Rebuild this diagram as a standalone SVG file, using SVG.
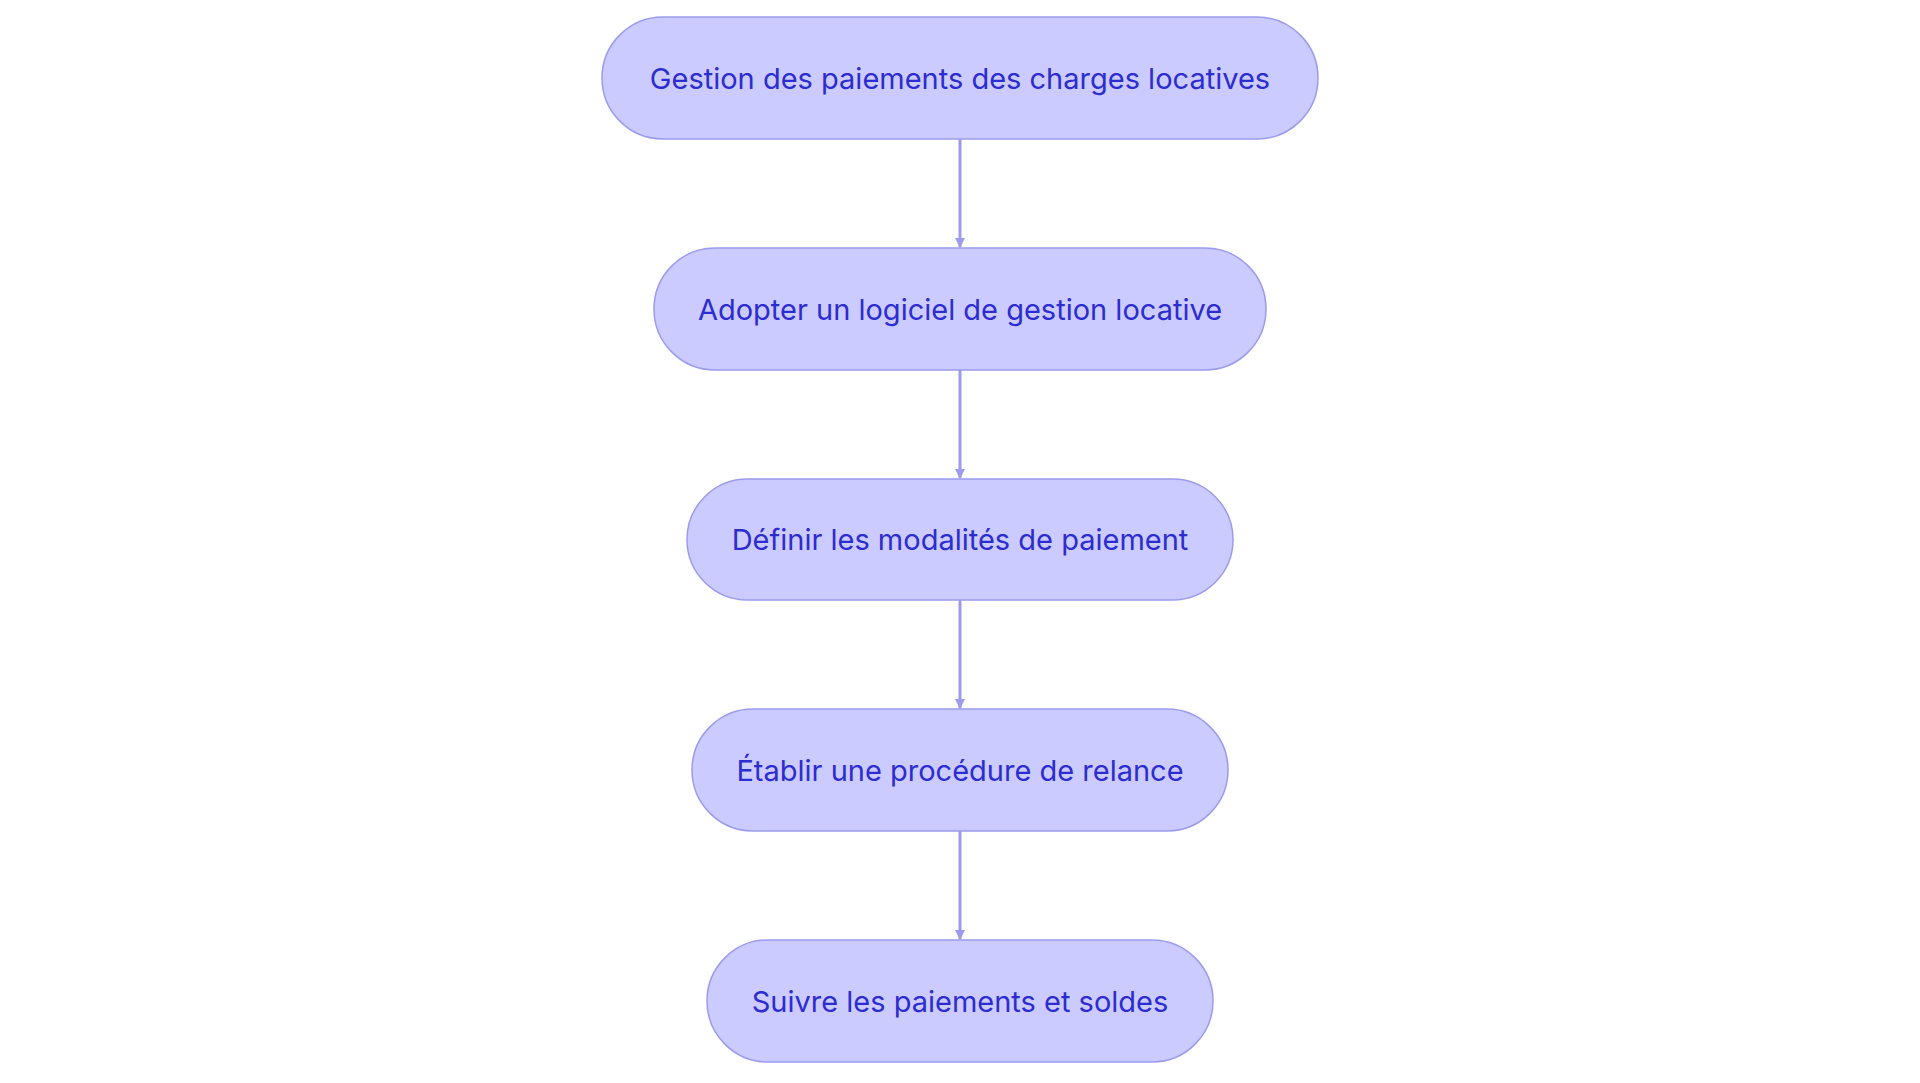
<svg xmlns="http://www.w3.org/2000/svg" width="1920" height="1083" viewBox="0 0 1920 1083">
<style>
.n{fill:#cbcbff;stroke:#9b9bee;stroke-width:1.5}
.t{font-family:Inter,"Noto Sans",sans-serif;font-size:29px;fill:#2c2cd0;text-anchor:middle;dominant-baseline:central}
.c{stroke:#9b9bee;stroke-width:3;fill:none}
</style>
<defs><marker id="a" markerWidth="10" markerHeight="10" refX="9" refY="5" orient="auto" markerUnits="userSpaceOnUse" viewBox="0 0 10 10"><path d="M0,0L10,5L0,10z" fill="#9b9bee"/></marker></defs>
<rect width="1920" height="1083" fill="#fff"/>
<g id="connectors">
<line class="c" x1="960" y1="139" x2="960" y2="247" marker-end="url(#a)" style="--w:0"/>
<line class="c" x1="960" y1="370" x2="960" y2="478" marker-end="url(#a)"/>
<line class="c" x1="960" y1="600" x2="960" y2="708" marker-end="url(#a)"/>
<line class="c" x1="960" y1="831" x2="960" y2="939" marker-end="url(#a)"/>
</g>
<g id="n1"><rect class="n" x="602" y="17" width="716" height="122" rx="61"/><text class="t" x="960" y="78">Gestion des paiements des charges locatives</text></g>
<g id="n2"><rect class="n" x="654" y="248" width="612" height="122" rx="61"/><text class="t" x="960" y="309">Adopter un logiciel de gestion locative</text></g>
<g id="n3"><rect class="n" x="687" y="479" width="546" height="121" rx="60.5"/><text class="t" x="960" y="539">Définir les modalités de paiement</text></g>
<g id="n4"><rect class="n" x="692" y="709" width="536" height="122" rx="61"/><text class="t" x="960" y="770">Établir une procédure de relance</text></g>
<g id="n5"><rect class="n" x="707" y="940" width="506" height="122" rx="61"/><text class="t" x="960" y="1001">Suivre les paiements et soldes</text></g>
</svg>
